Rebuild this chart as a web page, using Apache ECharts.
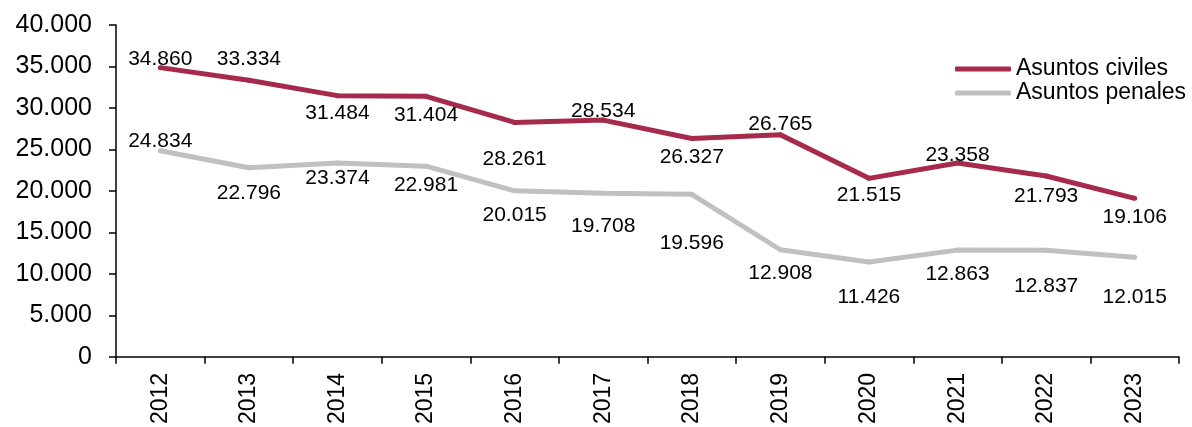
<!DOCTYPE html>
<html>
<head>
<meta charset="utf-8">
<title>Asuntos civiles y penales</title>
<script src="https://cdn.jsdelivr.net/npm/echarts@6/dist/echarts.min.js"></script>
<style>
  html, body { margin: 0; padding: 0; background: #fff; }
  #chart { width: 1192px; height: 427px; }
</style>
</head>
<body>
<div id="chart"></div>
<script>
const years = ['2012', '2013', '2014', '2015', '2016', '2017', '2018', '2019', '2020', '2021', '2022', '2023']
const civiles = [34860, 33334, 31484, 31404, 28261, 28534, 26327, 26765, 21515, 23358, 21793, 19106]
const penales = [24834, 22796, 23374, 22981, 20015, 19708, 19596, 12908, 11426, 12863, 12837, 12015]

// vertical shift of each value label from its point (px)
const civilesLabelDy = [-8, -21, 18, 19, 37, -9, 19, -11, 17, -8, 20, 19]
const penalesLabelDy = [-10, 25, 15, 19, 24, 33, 49, 23, 35, 24, 36, 40]

const font = '"Liberation Sans", Arial, sans-serif'
const fmt = (v) => String(v).replace(/\B(?=(\d{3})+(?!\d))/g, '.')

const withLabels = (values, dys) => values.map((v, i) => ({
  value: v,
  label: { offset: [0, dys[i]] },
}))

const chart = echarts.init(document.getElementById('chart'))

chart.setOption({
  animation: false,
  textStyle: { fontFamily: font },
  grid: { left: 116, right: 13, top: 25, bottom: 70 },
  legend: {
    orient: 'vertical',
    left: 950,
    top: 52,
    itemWidth: 56,
    itemHeight: 5,
    itemGap: 0,
    icon: 'roundRect',
    textStyle: { fontFamily: font, fontSize: 23, color: '#000', lineHeight: 24 },
    data: ['Asuntos civiles', 'Asuntos penales'],
  },
  xAxis: {
    type: 'category',
    data: years,
    boundaryGap: true,
    axisLine: { lineStyle: { color: '#000', width: 1.5 } },
    axisTick: { show: true, length: 7, lineStyle: { color: '#000', width: 1.5 } },
    axisLabel: { rotate: 90, margin: 16, fontSize: 23, color: '#000', fontFamily: font },
    splitLine: { show: false },
  },
  yAxis: {
    type: 'value',
    min: 0,
    max: 40000,
    interval: 5000,
    axisLine: { show: true, lineStyle: { color: '#000', width: 1.5 } },
    axisTick: { show: true, length: 7, lineStyle: { color: '#000', width: 1.5 } },
    axisLabel: { margin: 24, fontSize: 25, color: '#000', fontFamily: font, formatter: fmt },
    splitLine: { show: false },
  },
  series: [
    {
      name: 'Asuntos civiles',
      type: 'line',
      data: withLabels(civiles, civilesLabelDy),
      symbol: 'circle',
      symbolSize: 5,
      lineStyle: { color: '#A62A4B', width: 5 },
      itemStyle: { color: '#A62A4B' },
      label: {
        show: true,
        position: 'inside',
        fontSize: 21,
        color: '#000',
        fontFamily: font,
        formatter: (p) => fmt(p.value),
      },
      z: 3,
    },
    {
      name: 'Asuntos penales',
      type: 'line',
      data: withLabels(penales, penalesLabelDy),
      symbol: 'circle',
      symbolSize: 5,
      lineStyle: { color: '#C0C0C0', width: 5 },
      itemStyle: { color: '#C0C0C0' },
      label: {
        show: true,
        position: 'inside',
        fontSize: 21,
        color: '#000',
        fontFamily: font,
        formatter: (p) => fmt(p.value),
      },
      z: 2,
    },
  ],
})

window.onresize = () => {
  chart.resize()
}
</script>
</body>
</html>
